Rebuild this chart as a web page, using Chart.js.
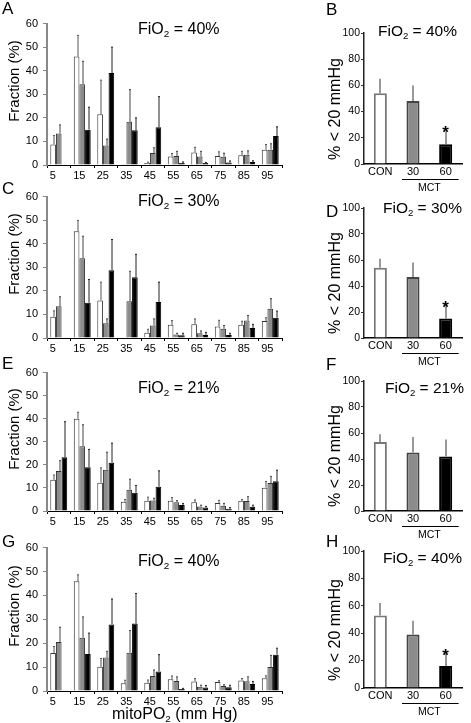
<!DOCTYPE html>
<html>
<head>
<meta charset="utf-8">
<script src="https://cdn.jsdelivr.net/npm/chart.js@4.4.0/dist/chart.umd.min.js"></script>
<style>
  body { margin: 0; background: #fff; width: 471px; height: 723px; position: relative; overflow: hidden;
         font-family: "Liberation Sans", Arial, sans-serif; color: #000; }
  canvas { position: absolute; }
  .lbl { position: absolute; white-space: nowrap; line-height: 1; }
  .letter { font-size: 17px; }
  .fio { font-size: 16px; }
  .fio.r { font-size: 15.5px; }
  .lbl sub { font-size: 0.62em; vertical-align: -0.3em; line-height: 0; }
  .ytitle { position: absolute; white-space: nowrap; line-height: 1; transform: translate(-50%, -50%) rotate(-90deg); }
</style>
</head>
<body>
<canvas id="chartA"></canvas>
<canvas id="chartC"></canvas>
<canvas id="chartE"></canvas>
<canvas id="chartG"></canvas>
<canvas id="chartB"></canvas>
<canvas id="chartD"></canvas>
<canvas id="chartF"></canvas>
<canvas id="chartH"></canvas>

<script>
// mitoPO2 bins (mm Hg)
const bins = ['5', '15', '25', '35', '45', '55', '65', '75', '85', '95'];
const groups = ['CON', '30', '60'];

// Panel A - FiO2 40%
const aCon = [8.7, 46, 21.5, 0.3, 0.8, 3.6, 5.3, 3.8, 4.1, 6.5];
const aConSd = [3.8, 9, 14.5, 0, 0.4, 1.3, 2.2, 1.8, 1.7, 2.2];
const aM30 = [13.4, 34.3, 8.3, 18.3, 5.1, 3.8, 3.6, 3.5, 4.4, 6.5];
const aM30Sd = [3.6, 9.7, 2.7, 13.7, 2.2, 2, 2.2, 1.5, 1.6, 2.5];
const aM60 = [0, 15, 39, 14.7, 16, 0.9, 0.8, 1.1, 1.3, 12.3];
const aM60Sd = [0, 9.5, 11, 5.3, 13, 0.4, 0.3, 0.6, 0.5, 3.9];

// Panel C - FiO2 30%
const cCon = [9, 45.3, 15.9, 0.2, 2.2, 5.6, 5.8, 4.9, 5.6, 7.2];
const cConSd = [2.5, 4.6, 7.8, 0, 1.5, 1.8, 2.3, 2.6, 1.5, 1.4];
const cM30 = [13.5, 33.8, 6.3, 15.6, 5.3, 1.5, 2, 3.9, 7.4, 12.4];
const cM30Sd = [4, 9.4, 1.8, 12.7, 2.8, 0.5, 1, 1.4, 2.1, 4.3];
const cM60 = [0, 15, 28.8, 25.8, 15.3, 1.2, 1.3, 1.3, 4.2, 8.6];
const cM60Sd = [0, 9.8, 13, 9.7, 8.4, 0.8, 1.1, 0.7, 1.6, 2.8];

// Panel E - FiO2 21%
const eCon = [13.5, 40, 12.3, 4, 4.4, 4.4, 3.8, 3.5, 4.4, 10.1];
const eConSd = [2.1, 2.8, 6.4, 1, 1.6, 1.4, 1, 1.1, 0.6, 2.7];
const eM30 = [17.3, 28.1, 17.9, 9.2, 4.5, 3.8, 2, 2.3, 4.3, 12.1];
const eM30Sd = [4.5, 9.3, 7.6, 4.6, 1, 0.7, 0.5, 1, 1.9, 2.9];
const eM60 = [23.3, 19, 20.9, 7.9, 10.5, 2.6, 1.5, 1, 1.8, 12.9];
const eM60Sd = [15.4, 7.7, 8.5, 3.1, 6.9, 0.7, 0.5, 0.5, 0.7, 4.8];

// Panel G - FiO2 40%
const gCon = [15.9, 45.9, 10.1, 3.2, 3.4, 4.9, 4, 3.8, 4.4, 5.3];
const gConSd = [2.7, 2.7, 3.5, 1.3, 1.2, 1.4, 1.2, 0.5, 0.8, 1];
const gM30 = [20.5, 22.3, 14, 16, 6.3, 4.2, 1.8, 2.1, 4.1, 10];
const gM30Sd = [6.2, 8.7, 2.6, 9.3, 2.5, 1.7, 0.6, 0.5, 1.8, 4.9];
const gM60 = [0.3, 15.5, 27.8, 28.2, 8.2, 0.8, 1.5, 1.6, 2.9, 15.2];
const gM60Sd = [0, 8.7, 10.7, 12.6, 7, 0.3, 0.8, 0.8, 1.1, 2.7];

// % < 20 mmHg (CON, MCT 30, MCT 60)
const bVals = [54, 48, 15], bSd = [11, 12, 10], bSig = [false, false, true];
const dVals = [54, 47, 15], dSd = [7, 11, 10], dSig = [false, false, true];
const fVals = [53, 45, 42], fSd = [6, 12, 13], fSig = [false, false, false];
const hVals = [53, 39, 16], hSd = [9, 10, 9], hSig = [false, false, true];

const FONT = '"Liberation Sans", Arial, sans-serif';

// one-sided (upward) error bars
const errorBars = {
  id: 'errorBars',
  afterDatasetsDraw(chart, args, opts) {
    const ctx = chart.ctx;
    const y = chart.scales.y;
    chart.data.datasets.forEach((ds, di) => {
      if (!ds.err) return;
      const meta = chart.getDatasetMeta(di);
      meta.data.forEach((bar, i) => {
        const sd = ds.err[i];
        if (!sd) return;
        const top = y.getPixelForValue(ds.data[i] + sd);
        const x = Math.round(bar.x) + (opts.shift || 0);
        ctx.save();
        ctx.strokeStyle = ds.errColor;
        ctx.lineWidth = opts.width || 1;
        ctx.beginPath();
        ctx.moveTo(x, bar.y);
        ctx.lineTo(x, top);
        ctx.stroke();
        if (opts.cap) {
          ctx.beginPath();
          ctx.moveTo(x - opts.cap, top);
          ctx.lineTo(x + opts.cap, top);
          ctx.stroke();
        }
        ctx.restore();
      });
    });
  }
};

// MCT underline + significance stars for the summary panels
const mctBracket = {
  id: 'mctBracket',
  afterDraw(chart, args, opts) {
    if (!opts.on) return;
    const ctx = chart.ctx;
    const xs = chart.scales.x, ys = chart.scales.y;
    const bottom = chart.chartArea.bottom;
    const x1 = xs.getPixelForValue(1) - 11;
    const x2 = xs.getPixelForValue(2) + 13;
    const ly = Math.round(bottom + 15) + 0.5;
    ctx.save();
    ctx.strokeStyle = '#000';
    ctx.lineWidth = 1;
    ctx.beginPath();
    ctx.moveTo(x1, ly);
    ctx.lineTo(x2, ly);
    ctx.stroke();
    ctx.fillStyle = '#000';
    ctx.font = '10.5px ' + FONT;
    ctx.textAlign = 'center';
    ctx.textBaseline = 'middle';
    ctx.fillText('MCT', (x1 + x2) / 2 - 1, bottom + 24);
    const ds = chart.data.datasets[0];
    const meta = chart.getDatasetMeta(0);
    (opts.stars || []).forEach((s, i) => {
      if (!s) return;
      const top = ys.getPixelForValue(ds.data[i] + ds.err[i]);
      ctx.font = 'bold 17px ' + FONT;
      ctx.textBaseline = 'alphabetic';
      ctx.fillText('*', meta.data[i].x, top + 7);
    });
    ctx.restore();
  }
};

function place(canvas, left, top, w, h) {
  canvas.width = w; canvas.height = h;
  canvas.style.left = left + 'px';
  canvas.style.top = top + 'px';
  canvas.style.width = w + 'px';
  canvas.style.height = h + 'px';
}

function makeHist(id, plotTop, plotBottom, con, conSd, m30, m30Sd, m60, m60Sd) {
  const canvas = document.getElementById(id);
  place(canvas, 0, plotTop - 9, 290, plotBottom - plotTop + 9 + 16);
  return new Chart(canvas.getContext('2d'), {
    type: 'bar',
    data: {
      labels: bins,
      datasets: [
        { label: 'CON', data: con, err: conSd, errColor: '#555', backgroundColor: '#fff', borderColor: '#333', borderWidth: 1 },
        { label: 'MCT 30', data: m30, err: m30Sd, errColor: '#444', backgroundColor: '#8c8c8c', borderColor: '#333', borderWidth: 1 },
        { label: 'MCT 60', data: m60, err: m60Sd, errColor: '#222', backgroundColor: '#000', borderColor: '#000', borderWidth: 1 }
      ]
    },
    options: {
      responsive: false,
      animation: false,
      events: [],
      categoryPercentage: 0.72,
      barPercentage: 1.0,
      layout: { padding: { top: 9, right: 8, left: 0, bottom: 0 } },
      plugins: { legend: { display: false }, tooltip: { enabled: false }, errorBars: { width: 1, cap: 1, shift: 1 }, mctBracket: { on: false } },
      scales: {
        x: {
          offset: true,
          grid: { offset: true, drawOnChartArea: false, drawTicks: true, tickLength: 3, color: '#000' },
          border: { color: '#000', width: 1 },
          ticks: { align: 'start', labelOffset: -9, padding: 1, maxRotation: 0, autoSkip: false, color: '#000', font: { family: FONT, size: 11 } },
          afterFit: s => { s.height = 16; }
        },
        y: {
          min: 0, max: 60,
          ticks: { stepSize: 10, padding: 5, color: '#000', font: { family: FONT, size: 11 } },
          grid: { drawOnChartArea: false, tickLength: 4, color: '#888' },
          border: { color: '#888', width: 2 },
          afterFit: s => { s.width = 47; }
        }
      }
    },
    plugins: [errorBars, mctBracket]
  });
}

function makeSummary(id, plotTop, plotBottom, vals, sd, stars) {
  const canvas = document.getElementById(id);
  place(canvas, 310, plotTop - 9, 161, plotBottom - plotTop + 9 + 32);
  return new Chart(canvas.getContext('2d'), {
    type: 'bar',
    data: {
      labels: groups,
      datasets: [{
        label: '% < 20 mmHg', data: vals, err: sd, errColor: '#777',
        backgroundColor: ['#fff', '#8c8c8c', '#000'],
        borderColor: ['#777', '#444', '#000'],
        borderWidth: 2
      }]
    },
    options: {
      responsive: false,
      animation: false,
      events: [],
      categoryPercentage: 0.4,
      barPercentage: 1.0,
      layout: { padding: { top: 9, right: 9, left: 0, bottom: 16 } },
      plugins: { legend: { display: false }, tooltip: { enabled: false }, errorBars: { width: 1.5, cap: 0 }, mctBracket: { on: true, stars: stars } },
      scales: {
        x: {
          grid: { display: true, drawOnChartArea: false, drawTicks: false },
          border: { color: '#000', width: 1.5 },
          ticks: { padding: 1, maxRotation: 0, color: '#000', font: { family: FONT, size: 11 } },
          afterFit: s => { s.height = 16; }
        },
        y: {
          min: 0, max: 100,
          ticks: { stepSize: 20, padding: 1, color: '#000', font: { family: FONT, size: 10.5 } },
          grid: { drawOnChartArea: false, tickLength: 3, color: '#333' },
          border: { color: '#222', width: 1.5 },
          afterFit: s => { s.width = 54; }
        }
      }
    },
    plugins: [errorBars, mctBracket]
  });
}

// panel texts (HTML so sub-scripts render)
function addText(cls, html, left, top) {
  const d = document.createElement('div');
  d.className = 'lbl ' + cls;
  d.innerHTML = html;
  d.style.left = left + 'px';
  d.style.top = top + 'px';
  document.body.appendChild(d);
}
function addYTitle(text, cx, cy, size) {
  const d = document.createElement('div');
  d.className = 'ytitle';
  d.textContent = text;
  d.style.left = cx + 'px';
  d.style.top = cy + 'px';
  d.style.fontSize = size + 'px';
  document.body.appendChild(d);
}

const leftPanels = [
  { id: 'chartA', letter: 'A', fio: '40%', top: 21, bottom: 165, data: [aCon, aConSd, aM30, aM30Sd, aM60, aM60Sd], titleTop: 21, letterTop: 0 },
  { id: 'chartC', letter: 'C', fio: '30%', top: 194, bottom: 338, data: [cCon, cConSd, cM30, cM30Sd, cM60, cM60Sd], titleTop: 193, letterTop: 180 },
  { id: 'chartE', letter: 'E', fio: '21%', top: 370, bottom: 511, data: [eCon, eConSd, eM30, eM30Sd, eM60, eM60Sd], titleTop: 380, letterTop: 355 },
  { id: 'chartG', letter: 'G', fio: '40%', top: 545, bottom: 691, data: [gCon, gConSd, gM30, gM30Sd, gM60, gM60Sd], titleTop: 553, letterTop: 533 }
];
const rightPanels = [
  { id: 'chartB', letter: 'B', fio: '40%', top: 33, bottom: 164, vals: bVals, sd: bSd, sig: bSig, titleLeft: 378, titleTop: 23, letterTop: 1 },
  { id: 'chartD', letter: 'D', fio: '30%', top: 208, bottom: 338, vals: dVals, sd: dSd, sig: dSig, titleLeft: 383, titleTop: 200, letterTop: 203 },
  { id: 'chartF', letter: 'F', fio: '21%', top: 381, bottom: 511, vals: fVals, sd: fSd, sig: fSig, titleLeft: 385, titleTop: 380, letterTop: 356 },
  { id: 'chartH', letter: 'H', fio: '40%', top: 551, bottom: 688, vals: hVals, sd: hSd, sig: hSig, titleLeft: 383, titleTop: 550, letterTop: 533 }
];

leftPanels.forEach(p => {
  makeHist(p.id, p.top, p.bottom, ...p.data);
  addText('letter', p.letter, 2, p.letterTop);
  addText('fio', 'FiO<sub>2</sub> = ' + p.fio, 138, p.titleTop);
  addYTitle('Fraction (%)', 13, (p.top + p.bottom) / 2 - 12, 15);
});
rightPanels.forEach(p => {
  makeSummary(p.id, p.top, p.bottom, p.vals, p.sd, p.sig);
  addText('letter', p.letter, 326, p.letterTop);
  addText('fio r', 'FiO<sub>2</sub> = ' + p.fio, p.titleLeft, p.titleTop);
  addYTitle('% < 20 mmHg', 335, (p.top + p.bottom) / 2 + 10, 16);
});
addText('fio', 'mitoPO<sub>2</sub> (mm Hg)', 112, 706);
</script>
</body>
</html>
